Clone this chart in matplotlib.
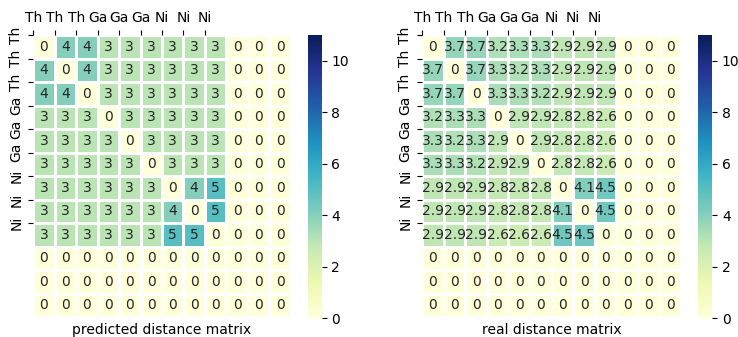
import numpy as np
import matplotlib
matplotlib.use("Agg")
import matplotlib.pyplot as plt
import seaborn as sns

atoms = ["Th", "Th", "Th", "Ga", "Ga", "Ga", "Ni", "Ni", "Ni"]
n_cells = 12

predicted = [
    [0, 4, 4, 3, 3, 3, 3, 3, 3],
    [4, 0, 4, 3, 3, 3, 3, 3, 3],
    [4, 4, 0, 3, 3, 3, 3, 3, 3],
    [3, 3, 3, 0, 3, 3, 3, 3, 3],
    [3, 3, 3, 3, 0, 3, 3, 3, 3],
    [3, 3, 3, 3, 3, 0, 3, 3, 3],
    [3, 3, 3, 3, 3, 3, 0, 4, 5],
    [3, 3, 3, 3, 3, 3, 4, 0, 5],
    [3, 3, 3, 3, 3, 3, 5, 5, 0],
]

real = [
    [0, 3.7, 3.7, 3.2, 3.3, 3.3, 2.9, 2.9, 2.9],
    [3.7, 0, 3.7, 3.3, 3.2, 3.3, 2.9, 2.9, 2.9],
    [3.7, 3.7, 0, 3.3, 3.3, 3.2, 2.9, 2.9, 2.9],
    [3.2, 3.3, 3.3, 0, 2.9, 2.9, 2.8, 2.8, 2.6],
    [3.3, 3.2, 3.3, 2.9, 0, 2.9, 2.8, 2.8, 2.6],
    [3.3, 3.3, 3.2, 2.9, 2.9, 0, 2.8, 2.8, 2.6],
    [2.9, 2.9, 2.9, 2.8, 2.8, 2.8, 0, 4.1, 4.5],
    [2.9, 2.9, 2.9, 2.8, 2.8, 2.8, 4.1, 0, 4.5],
    [2.9, 2.9, 2.9, 2.6, 2.6, 2.6, 4.5, 4.5, 0],
]


def pad(block):
    # matrices are stored padded to a fixed size of 12 atoms
    full = np.zeros((n_cells, n_cells))
    block = np.array(block, dtype=float)
    full[:block.shape[0], :block.shape[1]] = block
    return full


fig = plt.figure(figsize=(7.38, 3.37), dpi=100)

panels = [
    (pad(predicted), "predicted distance matrix", [0.045, 0.059, 0.349, 0.837], [0.417, 0.056, 0.019, 0.840]),
    (pad(real), "real distance matrix", [0.572, 0.059, 0.351, 0.837], [0.946, 0.056, 0.019, 0.840]),
]

for matrix, title, ax_box, cb_box in panels:
    ax = fig.add_axes(ax_box)
    cax = fig.add_axes(cb_box)

    sns.heatmap(
        matrix,
        ax=ax,
        cbar_ax=cax,
        cmap="YlGnBu",
        vmin=0,
        vmax=11,
        annot=True,
        annot_kws={"fontsize": 10},
        linewidths=1,
        linecolor="white",
    )

    ax.xaxis.tick_top()
    ax.set_xticks(np.arange(len(atoms)))
    ax.set_xticklabels(atoms, rotation=0, fontsize=10)
    ax.set_yticks(np.arange(len(atoms)))
    ax.set_yticklabels(atoms, rotation=90, va="center", fontsize=10)
    ax.set_xlabel(title, fontsize=10)

    cax.set_yticks([0, 2, 4, 6, 8, 10])
    cax.tick_params(labelsize=10)

fig.savefig("out.png", dpi=100)
plt.close(fig)
